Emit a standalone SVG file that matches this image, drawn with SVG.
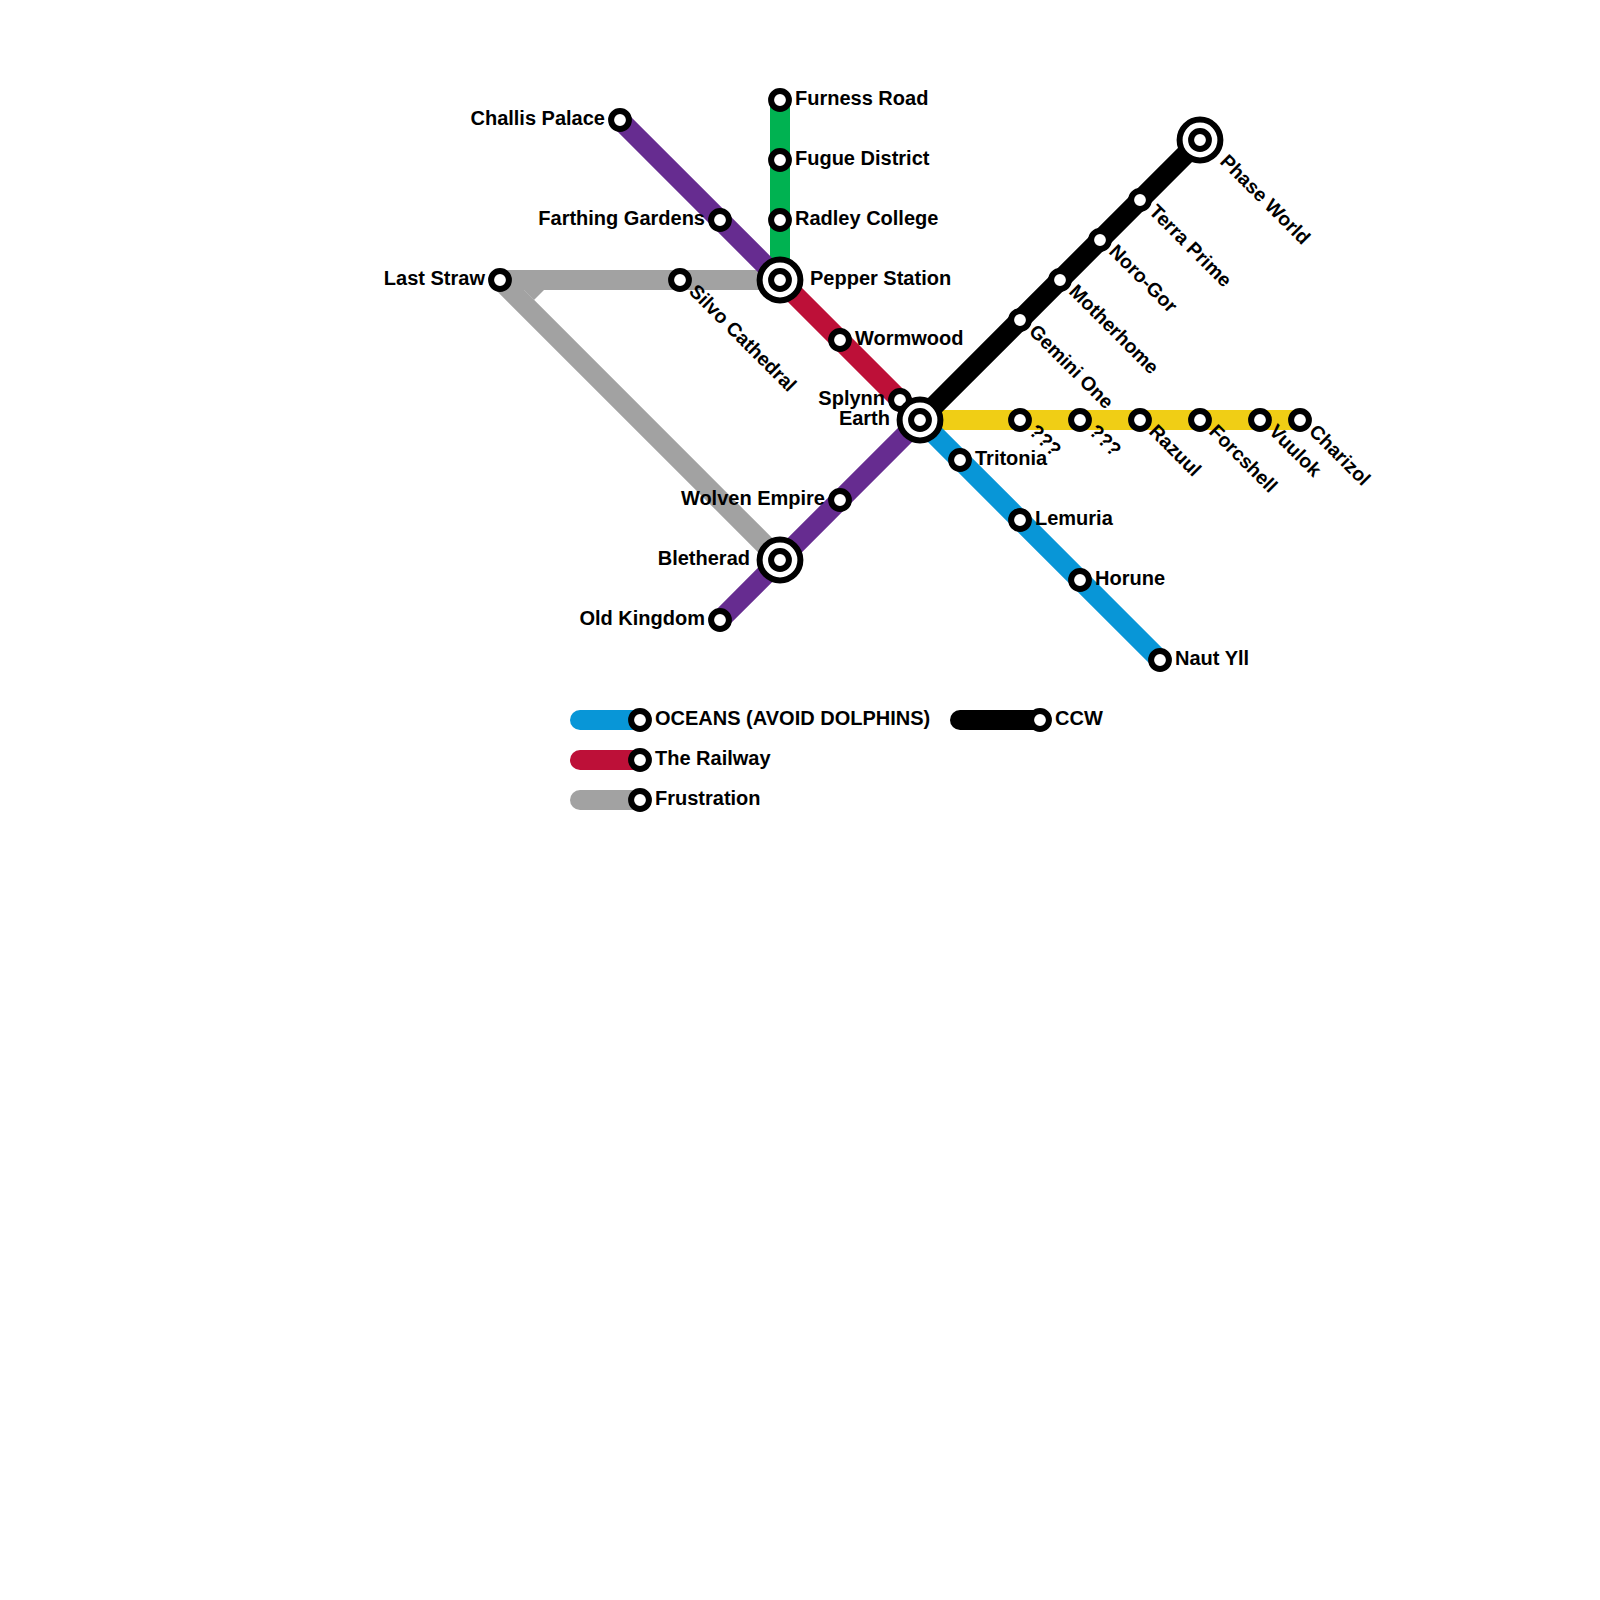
<svg xmlns="http://www.w3.org/2000/svg" width="1600" height="1600" viewBox="0 0 1600 1600">
<style>
.l{fill:none;stroke-width:20;stroke-linecap:round;stroke-linejoin:miter}
.s{fill:#fff;stroke:#000;stroke-width:6}
.t{font-family:"Liberation Sans",Arial,sans-serif;font-weight:700;font-size:20px;fill:#000}
.r{font-size:19.5px}
.e{text-anchor:end}
</style>
<defs>
<g id="st"><circle class="s" r="8.9"/></g>
<g id="ix"><circle class="s" r="20.4"/><circle class="s" r="8.9"/></g>
</defs>
<rect width="1600" height="1600" fill="#fff"/>
<g id="connectors">
<path class="l" stroke="#a2a2a2" d="M500 280H780M500 280L780 560"/>
<path fill="#a2a2a2" d="M514 280H544V290L534 300Z"/>
<path class="l" stroke="#00b251" d="M780 100V280"/>
<path class="l" stroke="#662c90" d="M620 120L780 280"/>
<path class="l" stroke="#bd1038" d="M780 280L920 420"/>
<path class="l" stroke="#662c90" d="M920 420L720 620"/>
<path class="l" stroke="#f0ce15" d="M920 420H1300"/>
<path class="l" stroke="#0896d7" d="M920 420L1160 660"/>
<path class="l" stroke="#000" d="M920 420L1200 140"/>
<path class="l" stroke="#0896d7" d="M580 720H640"/>
<path class="l" stroke="#bd1038" d="M580 760H640"/>
<path class="l" stroke="#a2a2a2" d="M580 800H640"/>
<path class="l" stroke="#000" d="M960 720H1040"/>
</g>
<g id="furness-road"><use href="#st" x="780" y="100"/><text class="t" x="795" y="105">Furness Road</text></g>
<g id="fugue-district"><use href="#st" x="780" y="160"/><text class="t" x="795" y="165">Fugue District</text></g>
<g id="radley-college"><use href="#st" x="780" y="220"/><text class="t" x="795" y="225">Radley College</text></g>
<g id="pepper-station"><use href="#ix" x="780" y="280"/><text class="t" x="810" y="285">Pepper Station</text></g>
<g id="challis-palace"><use href="#st" x="620" y="120"/><text class="t e" x="605" y="125">Challis Palace</text></g>
<g id="farthing-gardens"><use href="#st" x="720" y="220"/><text class="t e" x="705" y="225">Farthing Gardens</text></g>
<g id="last-straw"><use href="#st" x="500" y="280"/><text class="t e" x="485" y="285">Last Straw</text></g>
<g id="silvo-cathedral"><use href="#st" x="680" y="280"/><text class="t r" transform="translate(688 292.5) rotate(45)">Silvo Cathedral</text></g>
<g id="wormwood"><use href="#st" x="840" y="340"/><text class="t" x="855" y="345">Wormwood</text></g>
<g id="splynn"><use href="#st" x="900" y="400"/><text class="t e" x="885" y="405">Splynn</text></g>
<g id="earth"><use href="#ix" x="920" y="420"/><text class="t e" x="890" y="425">Earth</text></g>
<g id="wolven-empire"><use href="#st" x="840" y="500"/><text class="t e" x="825" y="505">Wolven Empire</text></g>
<g id="bletherad"><use href="#ix" x="780" y="560"/><text class="t e" x="750" y="565">Bletherad</text></g>
<g id="old-kingdom"><use href="#st" x="720" y="620"/><text class="t e" x="705" y="625">Old Kingdom</text></g>
<g id="tritonia"><use href="#st" x="960" y="460"/><text class="t" x="975" y="465">Tritonia</text></g>
<g id="lemuria"><use href="#st" x="1020" y="520"/><text class="t" x="1035" y="525">Lemuria</text></g>
<g id="horune"><use href="#st" x="1080" y="580"/><text class="t" x="1095" y="585">Horune</text></g>
<g id="naut-yll"><use href="#st" x="1160" y="660"/><text class="t" x="1175" y="665">Naut Yll</text></g>
<g id="gemini-one"><use href="#st" x="1020" y="320"/><text class="t r" transform="translate(1028 332.5) rotate(45)">Gemini One</text></g>
<g id="motherhome"><use href="#st" x="1060" y="280"/><text class="t r" transform="translate(1068 292.5) rotate(45)">Motherhome</text></g>
<g id="noro-gor"><use href="#st" x="1100" y="240"/><text class="t r" transform="translate(1108 252.5) rotate(45)">Noro-Gor</text></g>
<g id="terra-prime"><use href="#st" x="1140" y="200"/><text class="t r" transform="translate(1148 212.5) rotate(45)">Terra Prime</text></g>
<g id="phase-world"><use href="#ix" x="1200" y="140"/><text class="t r" transform="translate(1219 162.5) rotate(45)">Phase World</text></g>
<g id="q1"><use href="#st" x="1020" y="420"/><text class="t r" transform="translate(1028 432.5) rotate(45)">???</text></g>
<g id="q2"><use href="#st" x="1080" y="420"/><text class="t r" transform="translate(1088 432.5) rotate(45)">???</text></g>
<g id="razuul"><use href="#st" x="1140" y="420"/><text class="t r" transform="translate(1148 432.5) rotate(45)">Razuul</text></g>
<g id="forcshell"><use href="#st" x="1200" y="420"/><text class="t r" transform="translate(1208 432.5) rotate(45)">Forcshell</text></g>
<g id="vuulok"><use href="#st" x="1260" y="420"/><text class="t r" transform="translate(1268 432.5) rotate(45)">Vuulok</text></g>
<g id="charizol"><use href="#st" x="1300" y="420"/><text class="t r" transform="translate(1308 432.5) rotate(45)">Charizol</text></g>
<g id="legend-oceans"><use href="#st" x="640" y="720"/><text class="t" x="655" y="725">OCEANS (AVOID DOLPHINS)</text></g>
<g id="legend-railway"><use href="#st" x="640" y="760"/><text class="t" x="655" y="765">The Railway</text></g>
<g id="legend-frustration"><use href="#st" x="640" y="800"/><text class="t" x="655" y="805">Frustration</text></g>
<g id="legend-ccw"><use href="#st" x="1040" y="720"/><text class="t" x="1055" y="725">CCW</text></g>
</svg>
